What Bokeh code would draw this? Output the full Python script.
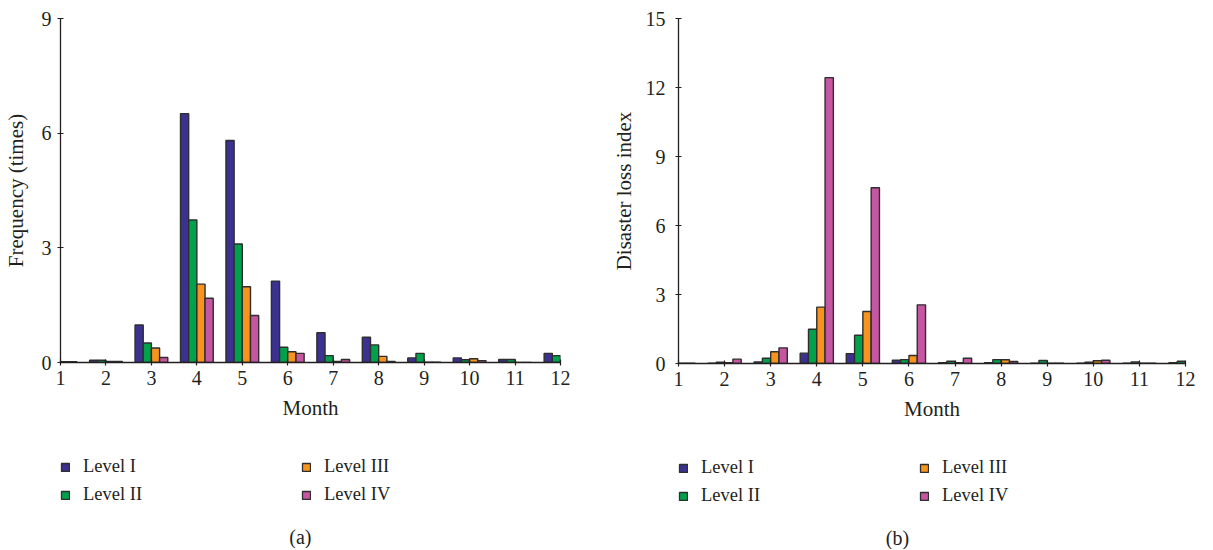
from bokeh.plotting import figure
from bokeh.models import Legend, LegendItem, Label, FixedTicker, Range1d, ColumnDataSource
from bokeh.layouts import row, column
from bokeh.transform import dodge
from bokeh.embed import file_html
from bokeh.resources import INLINE

months = [1, 2, 3, 4, 5, 6, 7, 8, 9, 10, 11, 12]
levels = ["Level I", "Level II", "Level III", "Level IV"]
colors = ["#3a3191", "#00a14b", "#f7941e", "#c655a2"]

freq_I = [0.02, 0.06, 0.98, 6.51, 5.81, 2.13, 0.78, 0.66, 0.12, 0.12, 0.08, 0.24]
freq_II = [0.02, 0.06, 0.51, 3.73, 3.10, 0.40, 0.18, 0.46, 0.24, 0.07, 0.08, 0.18]
freq_III = [0.02, 0.03, 0.38, 2.05, 1.98, 0.28, 0.03, 0.16, 0.01, 0.10, 0.0, 0.0]
freq_IV = [0.02, 0.03, 0.13, 1.68, 1.23, 0.24, 0.08, 0.03, 0.01, 0.05, 0.0, 0.0]

loss_I = [0.01, 0.01, 0.07, 0.45, 0.43, 0.14, 0.04, 0.04, 0.01, 0.01, 0.01, 0.03]
loss_II = [0.01, 0.06, 0.23, 1.49, 1.23, 0.17, 0.10, 0.17, 0.13, 0.06, 0.07, 0.10]
loss_III = [0.01, 0.04, 0.51, 2.45, 2.26, 0.35, 0.04, 0.16, 0.01, 0.12, 0.01, 0.0]
loss_IV = [0.01, 0.19, 0.68, 12.43, 7.64, 2.55, 0.23, 0.09, 0.01, 0.14, 0.01, 0.0]

y_ticks_a = [0, 3, 6, 9]
y_ticks_b = [0, 3, 6, 9, 12, 15]

FONT = "Liberation Serif"
TXT = "#231f20"
EDGE = "#2e2e2e"
offsets = [-0.27, -0.09, 0.09, 0.27]
bar_w = 0.18
LEG_H = 116


def make_panel(series, ymax, yticks, ylabel, caption, cap_x, fw, fh, bl, br, tick_standoff, lab_standoff):
    p = figure(frame_width=fw, frame_height=fh, output_backend="svg", toolbar_location=None,
               x_range=Range1d(1, 12), y_range=Range1d(0, ymax),
               min_border_left=bl, min_border_right=br, min_border_top=18, min_border_bottom=70)
    p.outline_line_color = None
    p.grid.grid_line_color = None
    src = ColumnDataSource(dict(month=months, s0=series[0], s1=series[1], s2=series[2], s3=series[3]))
    for i in range(4):
        p.vbar(x=dodge("month", offsets[i]), top="s%d" % i, width=bar_w, bottom=0, source=src,
               fill_color=colors[i], line_color=EDGE, line_width=1.4)
    for ax in (p.xaxis[0], p.yaxis[0]):
        ax.axis_line_color = TXT
        ax.axis_line_width = 1.3
        ax.major_tick_line_color = TXT
        ax.major_tick_line_width = 1.2
        ax.major_tick_in = 3
        ax.major_tick_out = 3
        ax.minor_tick_line_color = None
        ax.major_label_text_font = FONT
        ax.major_label_text_font_size = "20px"
        ax.major_label_text_color = TXT
        ax.axis_label_text_font = FONT
        ax.axis_label_text_font_size = "21px"
        ax.axis_label_text_font_style = "normal"
        ax.axis_label_text_color = TXT
    p.xaxis.ticker = FixedTicker(ticks=months)
    p.yaxis.ticker = FixedTicker(ticks=yticks)
    p.xaxis.axis_label = "Month"
    p.yaxis.axis_label = ylabel
    p.xaxis.major_label_standoff = 5
    p.xaxis.axis_label_standoff = 8
    p.yaxis.major_label_standoff = tick_standoff
    p.yaxis.axis_label_standoff = lab_standoff

    # legend + caption strip below the chart (its frame lines up with the chart's)
    W = bl + fw + br
    lg = figure(width=W, height=LEG_H, output_backend="svg", toolbar_location=None,
                x_range=Range1d(1, 12), y_range=Range1d(0, LEG_H),
                min_border_left=0, min_border_right=0, min_border_top=0, min_border_bottom=0)
    lg.axis.visible = False
    lg.grid.grid_line_color = None
    lg.outline_line_color = None
    rends = []
    for i in range(4):
        r = lg.vbar(x=dodge("month", offsets[i]), top="s%d" % i, width=bar_w, bottom=0, source=src,
                    fill_color=colors[i], line_color=EDGE, line_width=1.3, visible=False)
        rends.append(r)
    legend = Legend(items=[LegendItem(label=levels[i], renderers=[rends[i]]) for i in range(4)],
                    location=(0, 43), orientation="vertical", nrows=2,
                    glyph_width=10, glyph_height=10, label_standoff=13, label_width=211,
                    label_height=21, spacing=7, padding=0, margin=0,
                    border_line_color=None, background_fill_alpha=0, inactive_fill_alpha=0,
                    label_text_font=FONT, label_text_font_size="18.5px", label_text_color=TXT)
    lg.add_layout(legend, "center")
    lg.add_layout(Label(x=cap_x, y=12, text=caption, text_align="center", text_baseline="middle",
                        text_font=FONT, text_font_size="20px", text_color=TXT))
    return column(p, lg)


pa = make_panel([freq_I, freq_II, freq_III, freq_IV], 9, y_ticks_a, "Frequency (times)", "(a)", 6.32,
                500, 344, 56, 43, 6, 11)
pb = make_panel([loss_I, loss_II, loss_III, loss_IV], 15, y_ticks_b, "Disaster loss index", "(b)", 5.75,
                507, 345, 75, 16, 10, 7)

layout = row(pa, pb)
open("out.html", "w").write(file_html(layout, INLINE))
